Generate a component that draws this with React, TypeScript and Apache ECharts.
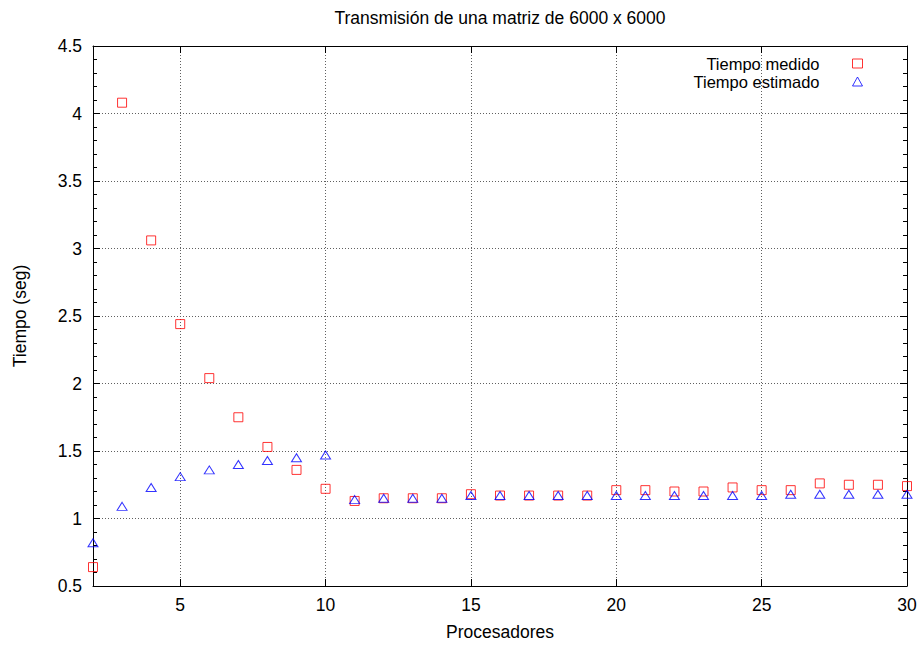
import React, { useEffect, useRef } from "react";
import * as echarts from "echarts";

const procesadores = [2, 3, 4, 5, 6, 7, 8, 9, 10, 11, 12, 13, 14, 15, 16, 17, 18, 19, 20, 21, 22, 23, 24, 25, 26, 27, 28, 29, 30];
const tiempoMedido = [0.64, 4.08, 3.06, 2.44, 2.04, 1.75, 1.53, 1.36, 1.22, 1.13, 1.15, 1.15, 1.15, 1.18, 1.17, 1.17, 1.17, 1.17, 1.21, 1.21, 1.2, 1.2, 1.23, 1.21, 1.21, 1.26, 1.25, 1.25, 1.24];
const tiempoEstimado = [0.82, 1.09, 1.23, 1.31, 1.36, 1.4, 1.43, 1.45, 1.47, 1.14, 1.15, 1.15, 1.15, 1.17, 1.17, 1.17, 1.17, 1.17, 1.17, 1.17, 1.17, 1.17, 1.17, 1.17, 1.18, 1.18, 1.18, 1.18, 1.18];
const xTicks = [5, 10, 15, 20, 25];
const xLabels = [5, 10, 15, 20, 25, 30];

const FONT = "'Liberation Sans', Arial, Helvetica, sans-serif";
const FS = 17.5;
const LFS = 16.5;

export default function App() {
  const ref = useRef<HTMLDivElement>(null);
  useEffect(() => {
    if (!ref.current) return;
    const chart = echarts.init(ref.current, null, { renderer: "svg" });
    const grid = { left: 93, right: 14, top: 46, bottom: 59 };
    const gridLine = { show: true, lineStyle: { color: "#606060", type: [1, 2], width: 1 } };
    const axisLine = { show: true, onZero: false, lineStyle: { color: "#000", width: 1 } };
    chart.setOption({
      animation: false,
      backgroundColor: "#fff",
      textStyle: { fontFamily: FONT },
      title: {
        text: "Transmisión de una matriz de 6000 x 6000",
        left: 500,
        top: 9,
        padding: 0,
        textAlign: "center",
        textStyle: { fontFamily: FONT, fontSize: FS, fontWeight: "normal", color: "#000" },
      },
      legend: {
        orient: "vertical",
        right: 58,
        top: 55,
        align: "right",
        itemWidth: 10,
        itemHeight: 9,
        itemGap: 1,
        padding: 0,
        selectedMode: false,
        textStyle: {
          fontFamily: FONT,
          fontSize: LFS,
          color: "#000",
          rich: { a: { fontFamily: FONT, fontSize: LFS, lineHeight: 17, color: "#000", padding: [0, 28, 0, 0] } },
        },
        formatter: (n: string) => `{a|${n}}`,
        data: [
          { name: "Tiempo medido", icon: "rect", itemStyle: { color: "transparent", borderColor: "#ff0000", borderWidth: 1 } },
          { name: "Tiempo estimado", icon: "triangle", itemStyle: { color: "transparent", borderColor: "#0000ff", borderWidth: 1 } },
        ],
      },
      grid,
      xAxis: [
        {
          type: "value",
          position: "bottom",
          min: 2,
          max: 30,
          name: "Procesadores",
          nameLocation: "middle",
          nameGap: 37,
          nameTextStyle: { fontFamily: FONT, fontSize: FS, color: "#000" },
          axisLine,
          axisTick: { show: true, inside: true, length: 7, customValues: xTicks, lineStyle: { color: "#000" } },
          axisLabel: { customValues: xLabels, fontFamily: FONT, fontSize: FS, color: "#000", margin: 10 },
          splitLine: gridLine,
        },
        {
          type: "value",
          position: "top",
          min: 2,
          max: 30,
          axisLine,
          axisTick: { show: true, inside: true, length: 7, customValues: xTicks, lineStyle: { color: "#000" } },
          axisLabel: { show: false },
          splitLine: { show: false },
        },
      ],
      yAxis: [
        {
          type: "value",
          position: "left",
          min: 0.5,
          max: 4.5,
          interval: 0.5,
          name: "Tiempo (seg)",
          nameLocation: "middle",
          nameGap: 64,
          nameTextStyle: { fontFamily: FONT, fontSize: FS, color: "#000" },
          axisLine,
          axisTick: { show: true, inside: true, length: 7, lineStyle: { color: "#000" } },
          minorTick: { show: true, splitNumber: 5, length: 4, lineStyle: { color: "#000" } },
          axisLabel: { fontFamily: FONT, fontSize: FS, color: "#000", margin: 11 },
          splitLine: gridLine,
        },
        {
          type: "value",
          position: "right",
          min: 0.5,
          max: 4.5,
          interval: 0.5,
          axisLine,
          axisTick: { show: true, inside: true, length: 7, lineStyle: { color: "#000" } },
          minorTick: { show: true, splitNumber: 5, length: 4, lineStyle: { color: "#000" } },
          axisLabel: { show: false },
          splitLine: { show: false },
        },
      ],
      series: [
        {
          name: "Tiempo medido",
          type: "scatter",
          clip: false,
          symbol: "rect",
          symbolSize: 9,
          itemStyle: { color: "transparent", borderColor: "#ff0000", borderWidth: 1 },
          data: procesadores.map((p, i) => [p, tiempoMedido[i]]),
        },
        {
          name: "Tiempo estimado",
          type: "scatter",
          clip: false,
          symbol: "triangle",
          symbolSize: [10, 8],
          itemStyle: { color: "transparent", borderColor: "#0000ff", borderWidth: 1 },
          data: procesadores.map((p, i) => [p, tiempoEstimado[i]]),
        },
      ],
    });
    return () => chart.dispose();
  }, []);
  return <div ref={ref} style={{ width: 921, height: 646, position: "absolute", left: 0, top: 0 }} />;
}
